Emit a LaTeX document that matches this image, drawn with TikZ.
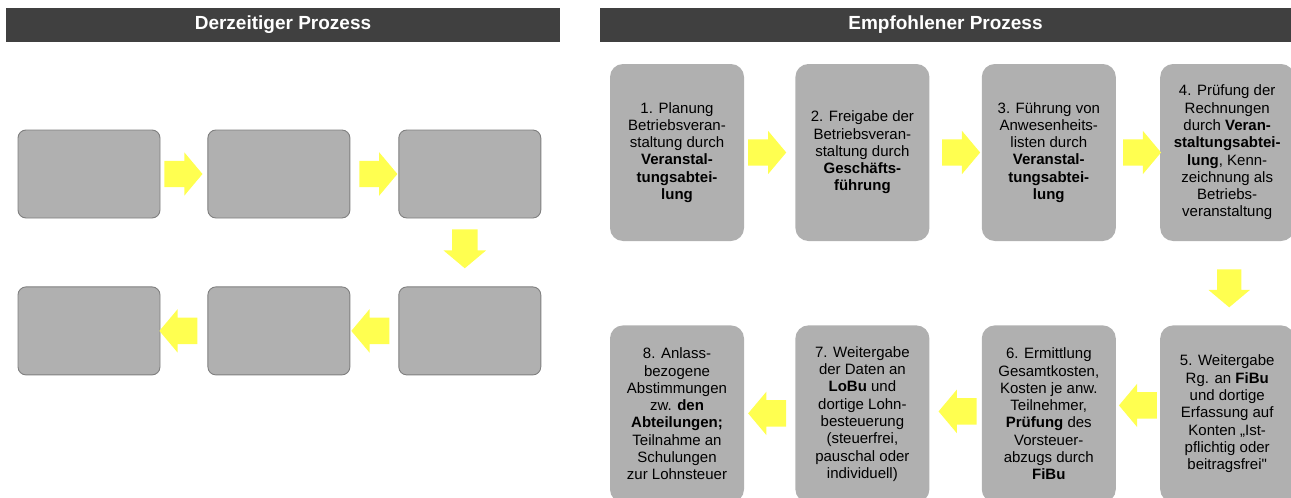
\documentclass[tikz,border=0pt]{standalone}
\usepackage{fontspec}
\setmainfont{Liberation Sans}
\newfontfamily\boxfont{Liberation Sans}
\usepackage{tikz}
\usetikzlibrary{shapes,arrows,positioning,calc}

\definecolor{headgrey}{HTML}{404040}
\definecolor{boxgrey}{HTML}{B0B0B0}
\definecolor{rimgrey}{HTML}{7F7F7F}
\definecolor{arrowyellow}{RGB}{255,255,80}

\begin{document}
\begin{tikzpicture}[
        x=1pt, y=1pt,
        header/.style={rectangle, fill=headgrey, text=white, font=\fontsize{19}{22}\selectfont\bfseries, minimum height=34pt, inner sep=0pt},
        emptybox/.style={rectangle, rounded corners=8pt, fill=boxgrey, draw=rimgrey, line width=0.9pt, minimum width=142pt, minimum height=88pt, inner sep=0pt},
        stepbox/.style={rectangle, rounded corners=13pt, fill=boxgrey, minimum width=134pt, minimum height=177pt, inner sep=0pt, align=center, font=\boxfont\fontsize{15}{17.3}\selectfont},
        yarrow/.style={single arrow, fill=arrowyellow, draw=none, minimum height=38pt, inner xsep=0pt, inner ysep=13pt, single arrow head extend=8.5pt, single arrow tip angle=100},
        downarrow/.style={yarrow, shape border rotate=270, inner xsep=13pt, inner ysep=0pt}
    ]
        \useasboundingbox (0,0) rectangle (1291,-498);
        \clip (0,0) rectangle (1291,-498);

        % Headers
        \node[header, minimum width=554pt] (headleft) at (283,-25) {Derzeitiger Prozess};
        \node[header, minimum width=691pt] (headright) at (945.5,-25) {Empfohlener Prozess};

        % Derzeitiger Prozess - empty boxes
        \node[emptybox] (old1) at (89,-174) {};
        \node[emptybox, right=47pt of old1] (old2) {};
        \node[emptybox, right=48pt of old2] (old3) {};
        \node[emptybox, below=68pt of old3] (old4) {};
        \node[emptybox, left=48pt of old4] (old5) {};
        \node[emptybox, left=47pt of old5] (old6) {};

        % Derzeitiger Prozess - arrows
        \node[yarrow] (oa12) at ($(old1.east)!0.5!(old2.west)+(-6,0)$) {};
        \node[yarrow] (oa23) at ($(old2.east)!0.5!(old3.west)+(-1.5,0)$) {};
        \node[downarrow, minimum height=39pt, inner xsep=12.5pt] (oa34) at ($(old3.south)!0.5!(old4.north)+(-5,9)$) {};
        \node[yarrow, shape border rotate=180] (oa45) at ($(old4.west)!0.5!(old5.east)+(1.5,0)$) {};
        \node[yarrow, shape border rotate=180] (oa56) at ($(old5.west)!0.5!(old6.east)$) {};

        % Empfohlener Prozess - steps
        \node[stepbox] (step1) at (677,-152.5) {1. Planung\\Betriebsveran-\\staltung durch\\\textbf{Veranstal-}\\\textbf{tungsabtei-}\\\textbf{lung}};
        \node[stepbox, right=51pt of step1] (step2) {2. Freigabe der\\Betriebsveran-\\staltung durch\\\textbf{Geschäfts-}\\\textbf{führung}};
        \node[stepbox, right=52pt of step2] (step3) {3. Führung von\\Anwesenheits-\\listen durch\\\textbf{Veranstal-}\\\textbf{tungsabtei-}\\\textbf{lung}};
        \node[stepbox, right=44pt of step3] (step4) {4. Prüfung der\\Rechnungen\\durch \textbf{Veran-}\\\textbf{staltungsabtei-}\\\textbf{lung}, Kenn-\\zeichnung als\\Betriebs-\\veranstaltung};
        \node[stepbox, below=84pt of step4] (step5) {5. Weitergabe\\Rg. an \textbf{FiBu}\\und dortige\\Erfassung auf\\Konten „Ist-\\pflichtig oder\\beitragsfrei"};
        \node[stepbox, left=44pt of step5] (step6) {6. Ermittlung\\Gesamtkosten,\\Kosten je anw.\\Teilnehmer,\\\textbf{Prüfung} des\\Vorsteuer-\\abzugs durch\\\textbf{FiBu}};
        \node[stepbox, left=52pt of step6] (step7) {7. Weitergabe\\der Daten an\\\textbf{LoBu} und\\dortige Lohn-\\besteuerung\\(steuerfrei,\\pauschal oder\\individuell)};
        \node[stepbox, left=51pt of step7] (step8) {8. Anlass-\\bezogene\\Abstimmungen\\zw. \textbf{den}\\\textbf{Abteilungen;}\\Teilnahme an\\Schulungen\\zur Lohnsteuer};

        % Empfohlener Prozess - arrows
        \node[yarrow] (sa12) at ($(step1.east)!0.5!(step2.west)+(-8,0)$) {};
        \node[yarrow] (sa23) at ($(step2.east)!0.5!(step3.west)$) {};
        \node[yarrow] (sa34) at ($(step3.east)!0.5!(step4.west)+(-1.5,0)$) {};
        \node[downarrow, inner xsep=12pt] (sa45) at ($(step4.south)!0.5!(step5.north)+(2,0)$) {};
        \node[yarrow, shape border rotate=180] (sa56) at ($(step5.west)!0.5!(step6.east)+(5.5,8.5)$) {};
        \node[yarrow, shape border rotate=180] (sa67) at ($(step6.west)!0.5!(step7.east)+(7.5,2.5)$) {};
        \node[yarrow, shape border rotate=180] (sa78) at ($(step7.west)!0.5!(step8.east)+(3,0.5)$) {};
    \end{tikzpicture}
\end{document}
